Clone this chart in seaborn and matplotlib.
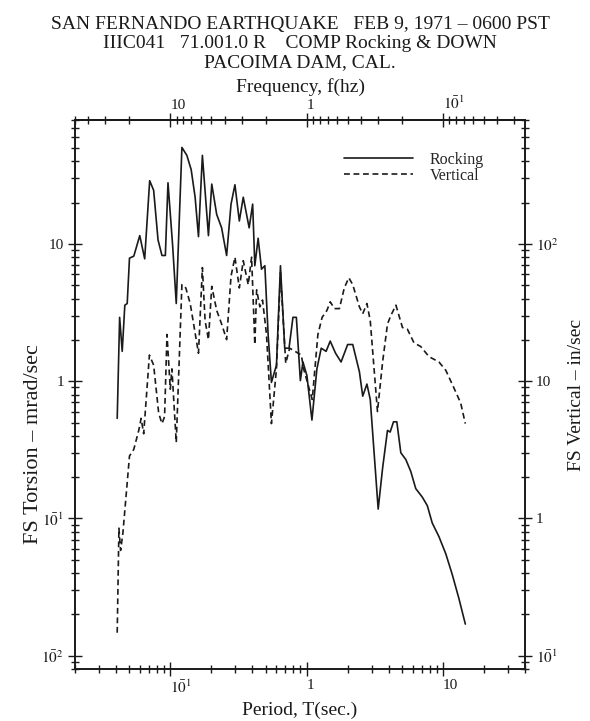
import numpy as np
import pandas as pd
import matplotlib
matplotlib.use("Agg")
import matplotlib.pyplot as plt
from matplotlib.ticker import FuncFormatter, NullFormatter, FixedLocator
import seaborn as sns

# ---- data ----
rock_period = [0.0408, 0.0425, 0.0444, 0.0464, 0.0483, 0.0502, 0.0540, 0.0597, 0.0649, 0.0706,
               0.0755, 0.0813, 0.0869, 0.0920, 0.0962, 0.104, 0.1106, 0.1217, 0.1323, 0.1423,
               0.1521, 0.161, 0.172, 0.1905, 0.2015, 0.219, 0.238, 0.259, 0.279, 0.298,
               0.321, 0.343, 0.379, 0.402, 0.417, 0.441, 0.467, 0.494, 0.522, 0.552,
               0.601, 0.643, 0.691, 0.743, 0.794, 0.841, 0.900, 0.940, 1.005, 1.094,
               1.19, 1.28, 1.39, 1.49, 1.63, 1.79, 2.00, 2.18, 2.44, 2.58,
               2.77, 2.93, 3.35, 3.61, 3.92, 4.10, 4.34, 4.59, 4.91, 5.34,
               5.81, 6.32, 7.06, 7.68, 8.35, 9.35, 10.5, 11.7, 13.1, 14.6]
rock_torsion = [0.536, 2.92, 1.65, 3.58, 3.68, 7.88, 8.15, 11.5, 7.79, 28.9,
                24.6, 10.7, 8.24, 8.24, 27.9, 9.80, 3.68, 50.5, 44.2, 34.8,
                21.9, 11.3, 44.2, 11.5, 27.3, 16.4, 13.1, 8.24, 19.5, 27.0,
                14.7, 21.9, 13.1, 19.5, 6.94, 11.0, 6.55, 6.94, 2.19, 0.98,
                1.31, 6.94, 1.74, 1.74, 2.92, 2.92, 1.01, 1.38, 1.10, 0.521,
                1.23, 1.74, 1.65, 1.96, 1.60, 1.38, 1.85, 1.85, 1.17, 0.778,
                0.953, 0.736, 0.117, 0.233, 0.438, 0.426, 0.506, 0.506, 0.301, 0.269,
                0.220, 0.165, 0.143, 0.124, 0.0926, 0.0737, 0.0552, 0.0391, 0.0261, 0.0170]

vert_period = [0.0408, 0.0420, 0.0432, 0.0449, 0.0502, 0.0540, 0.0587, 0.0611, 0.0638, 0.0703,
               0.0755, 0.0822, 0.0869, 0.0908, 0.0946, 0.100, 0.1028, 0.1106, 0.1217, 0.130,
               0.140, 0.161, 0.172, 0.180, 0.1905, 0.2015, 0.219, 0.238, 0.259, 0.279,
               0.298, 0.321, 0.343, 0.373, 0.395, 0.417, 0.430, 0.454, 0.475, 0.508,
               0.552, 0.601, 0.643, 0.703, 0.751, 0.915, 0.951, 1.10, 1.21, 1.30,
               1.41, 1.49, 1.60, 1.74, 1.89, 2.04, 2.18, 2.44, 2.58, 2.77,
               2.93, 3.31, 3.61, 3.92, 4.15, 4.52, 5.05, 5.49, 6.14, 6.87,
               7.90, 9.35, 10.5, 12.0, 13.5, 14.6]
vert_inps = [0.147, 0.85, 0.585, 0.78, 2.85, 3.19, 4.38, 5.36, 4.14, 15.5,
             13.1, 5.85, 4.91, 5.51, 21.9, 8.75, 12.3, 3.58, 50.5, 47.8,
             36.8, 16.0, 67.3, 27.6, 20.1, 49.1, 32.8, 26.1, 20.1, 58.3,
             80.0, 47.8, 75.5, 50.5, 80.1, 18.5, 46.3, 34.8, 39.0, 21.9,
             4.91, 12.3, 61.8, 13.5, 17.4, 15.5, 12.3, 7.36, 21.9, 29.2,
             32.8, 37.9, 33.8, 33.8, 47.8, 56.7, 50.5, 34.8, 31.0, 36.8,
             27.6, 6.01, 13.8, 26.1, 30.1, 35.8, 24.6, 23.9, 19.0, 17.9,
             15.1, 13.8, 12.0, 9.0, 6.93, 4.91]

title_lines = ["SAN FERNANDO EARTHQUAKE   FEB 9, 1971 \u2013 0600 PST",
               "IIIC041   71.001.0 R    COMP Rocking & DOWN",
               "PACOIMA DAM, CAL."]
series_labels = ["Rocking", "Vertical"]
freq_major = [0.1, 1, 10]

# ---- style ----
sns.set_style("ticks")
plt.rcParams["font.family"] = ["Liberation Serif", "DejaVu Serif"]
plt.rcParams["mathtext.fontset"] = "stix"
INK = "#1a1a1a"

def decade_fmt(v, pos=None):
    if v <= 0:
        return ""
    e = int(round(np.log10(v)))
    if e == 0:
        return "1"
    if e == 1:
        return "10"
    if e > 1:
        return r"$10^{%d}$" % e
    return r"$1\bar{0}^{%d}$" % (-e)

def inv(x):
    x = np.asarray(x, dtype=float)
    with np.errstate(divide="ignore"):
        return 1.0 / x

def style_axis(axis):
    axis.set_major_formatter(FuncFormatter(decade_fmt))
    axis.set_minor_formatter(NullFormatter())

fig = plt.figure(figsize=(5.9, 7.21), dpi=100)
ax = fig.add_axes([75 / 590, 1 - 669 / 721, 450 / 590, 549 / 721])
ax.set_xscale("log")
ax.set_yscale("log")

df_r = pd.DataFrame({"period": rock_period, "value": rock_torsion})
df_v = pd.DataFrame({"period": vert_period, "value": vert_inps})

sns.lineplot(data=df_r, x="period", y="value", ax=ax, color=INK, lw=1.2,
             sort=False, estimator=None, label=series_labels[0])
ax.set_xlim(0.02, 40)
ax.set_ylim(0.008, 80)

ax2 = ax.twinx()
ax2.set_yscale("log")
sns.lineplot(data=df_v, x="period", y="value", ax=ax2, color=INK, lw=1.2,
             sort=False, estimator=None, label=series_labels[1])
ax2.lines[-1].set_dashes([3.5, 2.2])
ax2.set_ylim(0.08, 800)
ax2.set_xlim(0.02, 40)

for a in (ax, ax2):
    if a.get_legend() is not None:
        a.get_legend().remove()

secx = ax.secondary_xaxis("top", functions=(inv, inv))
freq_minor = [m * 10.0 ** k for k in (-2, -1, 0, 1) for m in range(2, 10)
              if 1 / 40 <= m * 10.0 ** k <= 50]
secx.xaxis.set_major_locator(FixedLocator(freq_major))
secx.xaxis.set_minor_locator(FixedLocator(freq_minor))

tick_kw = dict(direction="inout", colors=INK, labelsize=11)
for a in (ax, ax2, secx):
    a.tick_params(which="major", length=10, width=1.0, pad=3, **tick_kw)
    a.tick_params(which="minor", length=6, width=1.0, **tick_kw)
secx.tick_params(which="major", pad=1)
ax.tick_params(axis="x", which="major", pad=2)

style_axis(ax.xaxis)
style_axis(ax.yaxis)
style_axis(ax2.yaxis)
style_axis(secx.xaxis)

ax.tick_params(axis="x", top=False)
ax.tick_params(axis="y", right=False)

# x tick labels start at their tick, as in the reference
fig.canvas.draw()
for lab in ax.get_xticklabels() + secx.get_xticklabels():
    lab.set_horizontalalignment("left")

for a in (ax, ax2):
    for s in a.spines.values():
        s.set_linewidth(1.2)
        s.set_color(INK)
secx.spines["top"].set_linewidth(1.2)

ax.set_xlabel("Period, T(sec.)", fontsize=14, color=INK, labelpad=4)
ax.set_ylabel("FS Torsion \u2013 mrad/sec", fontsize=16, color=INK)
ax.yaxis.set_label_coords(-0.072, 0.41)
ax2.set_ylabel("FS Vertical \u2013 in/sec", fontsize=14, color=INK)
ax2.yaxis.set_label_coords(1.095, 0.5)
secx.set_xlabel("Frequency, f(hz)", fontsize=14, color=INK, labelpad=1.5)

xc = (75 + 225) / 590
for i, line in enumerate(title_lines):
    fig.text(xc, 1 - (24 + 19.5 * i) / 721, line, ha="center", va="center",
             fontsize=14, color=INK)

handles = [ax.lines[0], ax2.lines[-1]]
leg = ax2.legend(handles, series_labels, loc="upper left", bbox_to_anchor=(0.598, 0.942),
                 frameon=False, fontsize=11.5, handlelength=4.3, handletextpad=1.05,
                 labelspacing=0.0, borderaxespad=0, borderpad=0)

fig.savefig("out.png", dpi=100)
